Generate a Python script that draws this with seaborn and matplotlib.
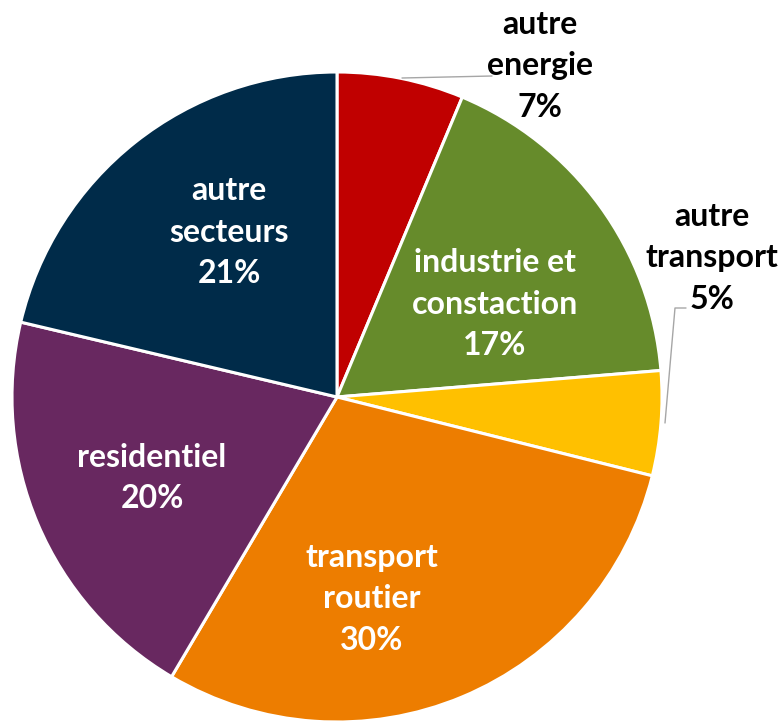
import matplotlib
matplotlib.use("Agg")
import matplotlib.pyplot as plt
import seaborn as sns

sns.set_theme(style="white")
plt.rcParams['font.family'] = ['Lato', 'DejaVu Sans']

categories = ["autre\nenergie", "industrie et\nconstaction", "autre\ntransport",
              "transport\nroutier", "residentiel", "autre\nsecteurs"]
values = [6.3, 17.4, 5.2, 29.6, 20.2, 21.3]
pct_labels = ["7%", "17%", "5%", "30%", "20%", "21%"]
colors = ["#C00000", "#668B2B", "#FFC000", "#ED7D00", "#682860", "#002B49"]
label_colors = ["black", "white", "black", "white", "white", "white"]

W, H = 782, 723
fig = plt.figure(figsize=(W / 100, H / 100), dpi=100)
ax = fig.add_axes([0, 0, 1, 1])

cx, cy, r = 337, H - 397, 325
ax.pie(values, colors=colors, startangle=90, counterclock=False,
       center=(cx, cy), radius=r, frame=True,
       wedgeprops=dict(edgecolor="white", linewidth=2.2))
ax.set_xlim(0, W)
ax.set_ylim(0, H)
ax.set_aspect('equal')
ax.axis('off')

# label positions (pixel coords from top-left)
pos = [(540, 66), (495, 304), (712, 258), (372, 599), (152, 478), (229, 232)]
for cat, p, (px, py), col in zip(categories, pct_labels, pos, label_colors):
    ax.text(px, H - py, f"{cat}\n{p}", ha="center", va="center",
            fontsize=23, fontweight="bold", color=col, linespacing=1.52)

# leader lines
ax.plot([402, 492], [H - 78, H - 76], color="#A6A6A6", lw=1)
ax.plot([665, 675, 686], [H - 423, H - 308, H - 308], color="#A6A6A6", lw=1)

fig.savefig("out.png", dpi=100)
